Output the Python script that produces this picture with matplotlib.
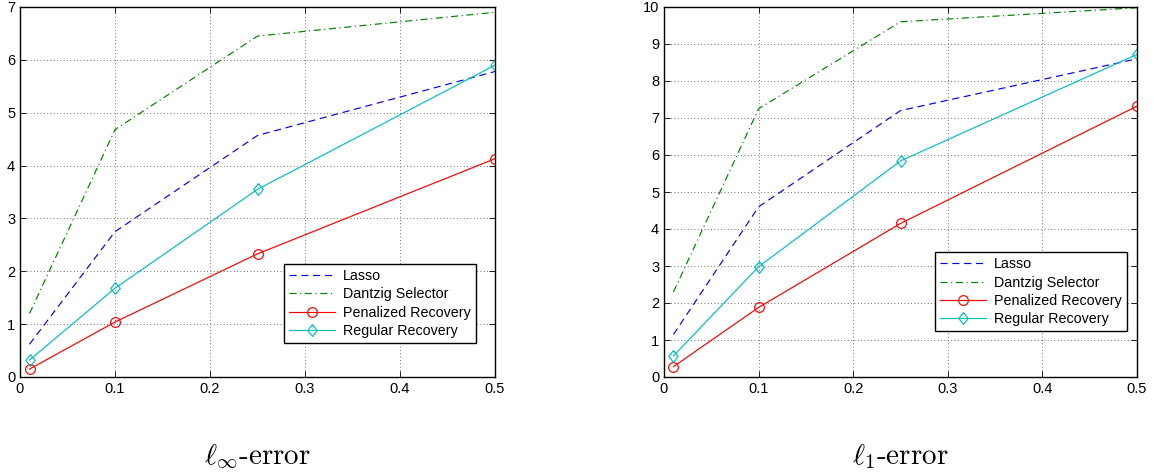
import matplotlib
matplotlib.use("Agg")
import matplotlib.pyplot as plt

plt.rcParams['font.family'] = ['Liberation Sans', 'DejaVu Sans']
plt.rcParams['mathtext.fontset'] = 'cm'

x = [0.01, 0.1, 0.25, 0.5]

linf_lasso = [0.62, 2.75, 4.57, 5.78]
linf_dantzig = [1.2, 4.68, 6.45, 6.9]
linf_penalized = [0.15, 1.04, 2.33, 4.13]
linf_regular = [0.32, 1.68, 3.55, 5.9]

l1_lasso = [1.15, 4.6, 7.2, 8.6]
l1_dantzig = [2.3, 7.25, 9.6, 9.98]
l1_penalized = [0.28, 1.88, 4.15, 7.32]
l1_regular = [0.57, 2.98, 5.84, 8.72]

labels = ['Lasso', 'Dantzig Selector', 'Penalized Recovery', 'Regular Recovery']
captions = [r'$\ell_\infty\text{-error}$', r'$\ell_1\text{-error}$']

fig = plt.figure(figsize=(11.54, 4.74), dpi=100)
W, H = 1154, 474

def px_axes(x0, x1, ytop, ybot):
    return fig.add_axes([x0 / W, (H - ybot) / H, (x1 - x0) / W, (ybot - ytop) / H])

ax1 = px_axes(20, 495, 7, 377)
ax2 = px_axes(664, 1137, 7, 377)

diamond = [(0, 1), (0.8, 0), (0, -1), (-0.8, 0), (0, 1)]

lw = 0.85
specs = [
    (ax1, [linf_lasso, linf_dantzig, linf_penalized, linf_regular], 7, captions[0], (0.96, 0.092)),
    (ax2, [l1_lasso, l1_dantzig, l1_penalized, l1_regular], 10, captions[1], (0.979, 0.124)),
]

for ax, series, ymax, cap, anchor in specs:
    lasso, dantzig, pen, reg = series
    ax.plot(x, lasso, color=(0, 0, 1), lw=lw, dashes=(6, 4), label=labels[0])
    ax.plot(x, dantzig, color=(0, 0.5, 0), lw=lw, dashes=(6, 3, 1, 3), label=labels[1])
    ax.plot(x, pen, color=(1, 0, 0), lw=lw, marker='o', ms=7, mfc='none', mew=0.85, label=labels[2])
    ax.plot(x, reg, color=(0, 0.75, 0.75), lw=lw, marker=diamond, ms=8.5, mfc='none', mew=0.85,
            label=labels[3])
    ax.set_xlim(0, 0.5)
    ax.set_ylim(0, ymax)
    ax.set_xticks([0, 0.1, 0.2, 0.3, 0.4, 0.5])
    ax.set_xticklabels(['0', '0.1', '0.2', '0.3', '0.4', '0.5'])
    ax.set_yticks(range(0, ymax + 1))
    ax.tick_params(direction='in', top=True, right=True, labelsize=10.5, length=4, width=0.6)
    ax.grid(True, linestyle=(0, (1, 3)), color='#444444', linewidth=0.6)
    for s in ax.spines.values():
        s.set_linewidth(1.0)
    leg = ax.legend(loc='lower right', bbox_to_anchor=anchor, fontsize=10.3, frameon=True,
                    fancybox=False, edgecolor='black', framealpha=1, handlelength=3.2,
                    labelspacing=0.3, borderpad=0.35, handletextpad=0.6, borderaxespad=0)
    leg.get_frame().set_linewidth(1.0)
    ax.text(0.5, -0.215, cap, transform=ax.transAxes, ha='center', va='center', fontsize=21)

fig.savefig('out.png', dpi=100)
